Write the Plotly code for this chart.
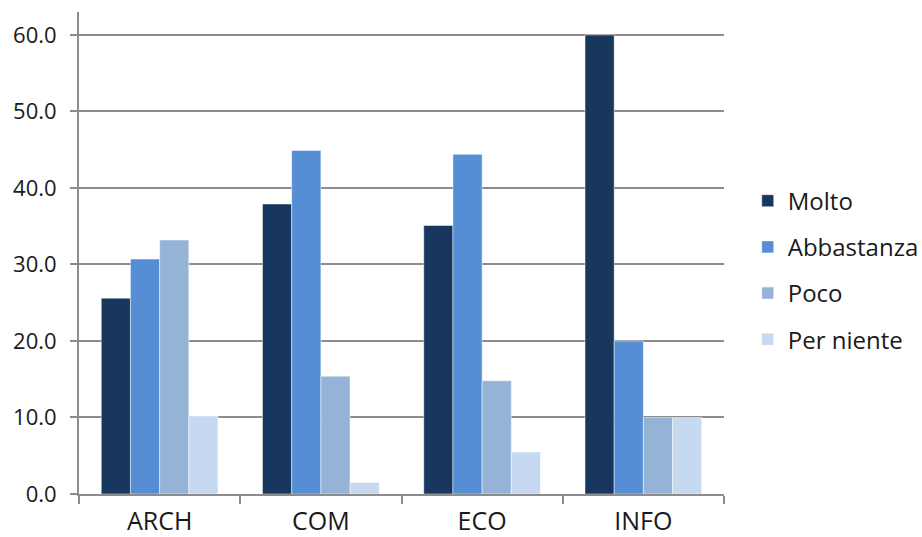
import plotly.graph_objects as go

categories = ["ARCH", "COM", "ECO", "INFO"]
molto = [25.6, 37.9, 35.1, 60.0]
abbastanza = [30.7, 44.9, 44.4, 20.0]
poco = [33.2, 15.4, 14.8, 10.0]
per_niente = [10.2, 1.5, 5.5, 10.0]

series = [
    ("Molto", molto, "#17375E"),
    ("Abbastanza", abbastanza, "#558ED5"),
    ("Poco", poco, "#95B3D7"),
    ("Per niente", per_niente, "#C6D9F1"),
]

font_family = "Open Sans, DejaVu Sans, sans-serif"
axis_grey = "#8c8c8c"

fig = go.Figure()
for name, values, color in series:
    fig.add_trace(go.Bar(
        x=categories,
        y=values,
        name=name,
        legendgroup=name,
        marker=dict(color=color, line=dict(color="rgba(255,255,255,0.6)", width=0.8)),
    ))

fig.update_layout(
    width=922,
    height=537,
    margin=dict(l=79, r=198, t=12, b=43),
    paper_bgcolor="white",
    plot_bgcolor="white",
    barmode="group",
    bargap=0.276,
    bargroupgap=0,
    font=dict(family=font_family, color="#1a1a1a", size=20),
    legend=dict(
        xref="container",
        yref="container",
        x=0.811,
        xanchor="left",
        y=0.497,
        yanchor="middle",
        font=dict(size=24, family=font_family, color="#1a1a1a"),
        traceorder="grouped",
        tracegroupgap=12,
        itemwidth=30,
        bgcolor="rgba(0,0,0,0)",
    ),
    xaxis=dict(
        automargin=False,
        showgrid=False,
        showline=True,
        linecolor=axis_grey,
        linewidth=2,
        ticks="outside",
        tickson="boundaries",
        ticklen=8,
        tickwidth=2,
        tickcolor=axis_grey,
        tickfont=dict(size=25),
        ticklabelstandoff=4,
    ),
    yaxis=dict(
        automargin=False,
        range=[0, 63],
        dtick=10,
        tick0=0,
        tickformat=".1f",
        showgrid=True,
        gridcolor=axis_grey,
        gridwidth=2,
        showline=True,
        linecolor=axis_grey,
        linewidth=2,
        ticks="outside",
        ticklen=7,
        tickwidth=2,
        tickcolor=axis_grey,
        tickfont=dict(size=22),
        ticklabelstandoff=9,
        zeroline=False,
    ),
)

fig.write_html("out.html")
